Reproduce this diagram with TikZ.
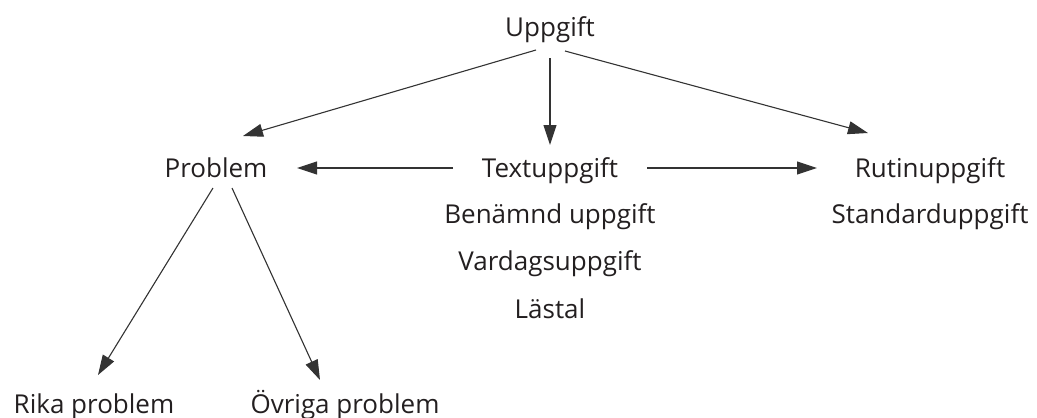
\documentclass[tikz,border=0pt]{standalone}
\usepackage{fontspec}
\setmainfont{Open Sans}
\usepackage{tikz}
\usetikzlibrary{arrows.meta,calc}
\definecolor{ink}{HTML}{231F20}
\definecolor{wire}{HTML}{333333}

\begin{document}
\begin{tikzpicture}[x=1pt, y=-1pt]
            \tikzstyle{term} = [anchor=base, inner sep=0pt, text=ink, font=\fontsize{26}{30}\selectfont];
            \tikzstyle{arr} = [draw=wire, line width=1.1pt, -{Triangle[length=20pt, width=13pt]}];
            \useasboundingbox (0,0) rectangle (1037,418);
            \foreach \n/\t/\x/\y in {upp/Uppgift/550/36,
                prob/Problem/216/177, text/Textuppgift/550/177, rutin/Rutinuppgift/930/177,
                ben/{Benämnd uppgift}/550/223, std/Standarduppgift/930/223,
                vard/Vardagsuppgift/550/270, las/Lästal/550/318,
                rika/{Rika problem}/94/413, ovr/{Övriga problem}/345/413}
            {\node[term] (\n) at (\x,\y) {\t};}
            \foreach \a/\ax/\ay/\b/\bx/\by in {upp/-14/14/prob/27/-41,
                upp/0/22/text/0/-32,
                upp/15/15/rutin/-62/-44,
                text/-97/-9/prob/81/-9,
                text/97/-9/rutin/-113/-9,
                prob/-3/11/rika/4/-38,
                prob/16/11/ovr/-25/-33}
            {\draw[arr] ($(\a.base)+(\ax,\ay)$) -- ($(\b.base)+(\bx,\by)$);}
        \end{tikzpicture}
\end{document}
